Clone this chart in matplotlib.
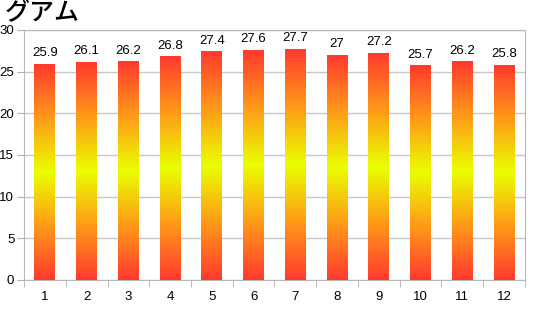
import numpy as np
import matplotlib
matplotlib.use("Agg")
import matplotlib.pyplot as plt
from matplotlib.colors import LinearSegmentedColormap

months = ["1", "2", "3", "4", "5", "6", "7", "8", "9", "10", "11", "12"]
temps = [25.9, 26.1, 26.2, 26.8, 27.4, 27.6, 27.7, 27.0, 27.2, 25.7, 26.2, 25.8]
title = "グアム"

plt.rcParams['font.family'] = ['Liberation Sans', 'Noto Sans CJK JP', 'DejaVu Sans']

fig = plt.figure(figsize=(5.34, 3.09), dpi=100)
ax = fig.add_axes([0.045, 0.094, 0.938, 0.809])

cmap = LinearSegmentedColormap.from_list(
    "ry", ["#ff3a2e", "#ff9a18", "#eaff00", "#ff9a18", "#ff3a2e"])
grad = np.linspace(0, 1, 256).reshape(-1, 1)

width = 0.5
for i, v in enumerate(temps):
    ax.imshow(grad, cmap=cmap, aspect="auto", origin="lower",
              extent=(i - width / 2, i + width / 2, 0, v), zorder=3)
    lbl = f"{v:g}"
    ax.text(i, v + 0.6, lbl, ha="center", va="bottom", fontsize=9.5, zorder=4)

ax.set_xlim(-0.5, len(temps) - 0.5)
ax.set_ylim(0, 30)
ax.set_yticks(range(0, 31, 5))
ax.set_xticks(range(len(months)))
ax.set_xticklabels(months)
ax.set_xticks(np.arange(-0.5, len(months)), minor=True)
ax.tick_params(axis="x", which="major", length=0, pad=8, labelsize=9.5)
ax.tick_params(axis="x", which="minor", length=5, color="#b0b0b0")
ax.tick_params(axis="y", length=5, color="#b0b0b0", labelsize=9.5, pad=2)
ax.grid(axis="y", color="#c8c8c8", linewidth=1, zorder=0)
ax.set_axisbelow(True)
for s in ax.spines.values():
    s.set_color("#b8b8b8")

fig.text(0.008, 1.0, title, fontsize=18, ha="left", va="top", weight="medium",
         family=['Noto Sans CJK JP', 'DejaVu Sans'])

fig.savefig("out.png", dpi=100)
